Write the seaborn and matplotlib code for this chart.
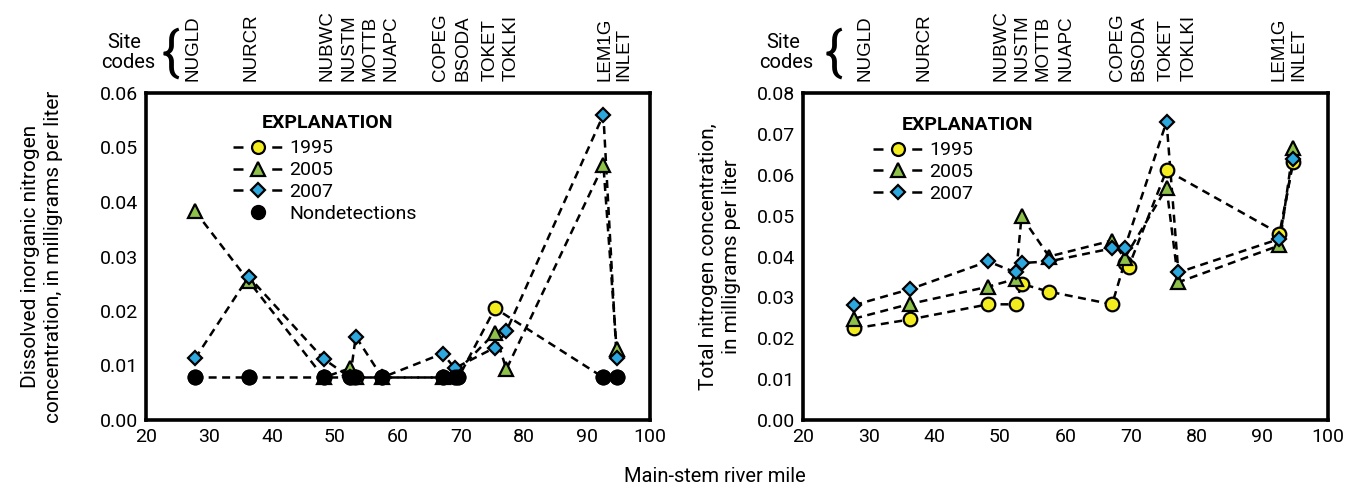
import matplotlib
matplotlib.use("Agg")
import matplotlib.pyplot as plt
import matplotlib.ticker as mticker
import matplotlib.transforms as mtransforms
from matplotlib.lines import Line2D
import seaborn as sns
import pandas as pd

# DATOS

site_codes = ["NUGLD", "NURCR", "NUBWC", "NUSTM", "MOTTB", "NUAPC",
              "COPEG", "BSODA", "TOKET", "TOKLKI", "LEM1G", "INLET"]

# nitrogeno inorganico disuelto
din_x_1995 = [27.8, 36.3, 48.2, 52.4, 53.3, 57.5, 67.1, 69.0, 69.6, 75.4, 92.6, 94.7]
din_y_1995 = [0.0078, 0.0078, 0.0078, 0.0078, 0.0078, 0.0078, 0.0078, 0.0078, 0.0078, 0.0205, 0.0078, 0.0078]

din_x_2005 = [27.8, 36.3, 48.2, 52.4, 53.3, 57.5, 67.1, 69.0, 75.4, 77.2, 92.6, 94.7]
din_y_2005 = [0.0383, 0.0255, 0.0078, 0.0095, 0.0078, 0.0078, 0.0078, 0.0085, 0.0160, 0.0093, 0.0468, 0.0130]

din_x_2007 = [27.8, 36.3, 48.2, 52.4, 53.3, 57.5, 67.1, 69.0, 75.4, 77.2, 92.6, 94.7]
din_y_2007 = [0.0113, 0.0263, 0.0112, 0.0078, 0.0153, 0.0078, 0.0122, 0.0095, 0.0133, 0.0163, 0.0560, 0.0113]

nd_x = [27.8, 36.3, 48.2, 52.4, 53.0, 57.5, 67.1, 69.0, 69.6, 92.6, 94.7]
nd_y = [0.0078, 0.0078, 0.0078, 0.0078, 0.0078, 0.0078, 0.0078, 0.0078, 0.0078, 0.0078, 0.0078]

# nitrogeno total
tn_x_1995 = [27.8, 36.3, 48.2, 52.4, 53.3, 57.5, 67.1, 69.0, 69.6, 75.4, 92.6, 94.7]
tn_y_1995 = [0.0224, 0.0246, 0.0283, 0.0283, 0.0333, 0.0314, 0.0283, 0.0385, 0.0374, 0.0611, 0.0456, 0.0631]

tn_x_2005 = [27.8, 36.3, 48.2, 52.4, 53.3, 57.5, 67.1, 69.0, 75.4, 77.2, 92.6, 94.7]
tn_y_2005 = [0.0248, 0.0284, 0.0326, 0.0345, 0.0498, 0.0400, 0.0439, 0.0396, 0.0568, 0.0337, 0.0427, 0.0666]

tn_x_2007 = [27.8, 36.3, 48.2, 52.4, 53.3, 57.5, 67.1, 69.0, 75.4, 77.2, 92.6, 94.7]
tn_y_2007 = [0.0281, 0.0320, 0.0388, 0.0361, 0.0384, 0.0388, 0.0420, 0.0420, 0.0730, 0.0361, 0.0443, 0.0639]

# ESTILO

sns.set_style("white")
COND = ["Roboto", "DejaVu Sans"]
PLAIN = ["Liberation Sans", "DejaVu Sans"]
plt.rcParams["font.family"] = COND
for k in ["text.color", "axes.labelcolor", "xtick.color", "ytick.color"]:
    plt.rcParams[k] = "black"

AMARILLO = "#F3EC1F"
VERDE = "#8DC149"
AZUL = "#2CA8DF"
DASH = (0, (3.2, 2.2))

estilos = {
    "1995": dict(marker="o", color=AMARILLO, size=9.8),
    "2005": dict(marker="^", color=VERDE, size=10.5),
    "2007": dict(marker="D", color=AZUL, size=7.5),
}

W, H = 1359, 491
fig = plt.figure(figsize=(W / 100, H / 100), dpi=100)

ax_din = fig.add_axes([146 / W, 1 - 420 / H, 504 / W, 327 / H])
ax_tn = fig.add_axes([803 / W, 1 - 420 / H, 525 / W, 327 / H])


def dibujar(ax, series, nd=None):
    # lineas primero, marcadores encima
    for anio, (xs, ys) in series.items():
        df = pd.DataFrame({"x": xs, "y": ys})
        sns.lineplot(data=df, x="x", y="y", ax=ax, color="black",
                     linestyle=DASH, linewidth=1.8, sort=False,
                     estimator=None, zorder=2)
    for anio, (xs, ys) in series.items():
        e = estilos[anio]
        ax.plot(xs, ys, linestyle="none", marker=e["marker"],
                markersize=e["size"], markerfacecolor=e["color"],
                markeredgecolor="black", markeredgewidth=1.6, zorder=3)
    if nd is not None:
        ax.plot(nd[0], nd[1], linestyle="none", marker="o",
                markersize=10.5, color="black", zorder=4)


dibujar(ax_din, {"1995": (din_x_1995, din_y_1995),
                 "2005": (din_x_2005, din_y_2005),
                 "2007": (din_x_2007, din_y_2007)}, nd=(nd_x, nd_y))

dibujar(ax_tn, {"1995": (tn_x_1995, tn_y_1995),
                "2005": (tn_x_2005, tn_y_2005),
                "2007": (tn_x_2007, tn_y_2007)})

# EJES
for ax, ymax in [(ax_din, 0.06), (ax_tn, 0.08)]:
    ax.set_xlim(20, 100)
    ax.set_ylim(0, ymax)
    ax.xaxis.set_major_locator(mticker.MultipleLocator(10))
    ax.xaxis.set_minor_locator(mticker.MultipleLocator(5))
    ax.yaxis.set_major_locator(mticker.MultipleLocator(0.01))
    ax.yaxis.set_minor_locator(mticker.MultipleLocator(0.005))
    ax.yaxis.set_major_formatter(mticker.FormatStrFormatter("%.2f"))
    ax.tick_params(which="both", direction="in", width=1.6,
                   labelsize=14, top=False, right=False)
    ax.tick_params(which="major", length=6, pad=6)
    ax.tick_params(which="minor", length=6)
    for s in ax.spines.values():
        s.set_linewidth(2.6)
        s.set_color("black")
    ax.set_xlabel("")
    ax.set_ylabel("")

ax_din.set_ylabel("Dissolved inorganic nitrogen\nconcentration, in milligrams per liter",
                  fontsize=15, linespacing=1.25)
ax_din.yaxis.set_label_coords(-0.165, 0.5)
ax_tn.set_ylabel("Total nitrogen concentration,\nin milligrams per liter",
                 fontsize=15, linespacing=1.25)
ax_tn.yaxis.set_label_coords(-0.118, 0.5)

fig.text(715 / W, 1 - 476 / H, "Main-stem river mile", ha="center",
         va="center", fontsize=14.5)


# LEYENDA
def leyenda(ax, x0, xt, yt, con_nd):
    handles = []
    labels = []
    for anio, e in estilos.items():
        handles.append(Line2D([], [], color="black", linestyle=(0, (4, 11.5)),
                              linewidth=1.8, marker=e["marker"],
                              markersize=e["size"] * 0.95,
                              markerfacecolor=e["color"],
                              markeredgecolor="black", markeredgewidth=1.6))
        labels.append(anio)
    if con_nd:
        handles.append(Line2D([], [], linestyle="none", marker="o",
                              markersize=10, color="black"))
        labels.append("Nondetections")
    ax.text(xt, yt, "EXPLANATION", transform=ax.transAxes, ha="center",
            va="center", fontsize=14, fontweight="bold")
    ax.legend(handles, labels, loc="upper left",
              bbox_to_anchor=(x0, yt - 0.05), frameon=False, fontsize=14,
              handlelength=2.6, handletextpad=0.3, labelspacing=0.2,
              borderpad=0, borderaxespad=0)


leyenda(ax_din, 0.173, 0.361, 0.908, True)
leyenda(ax_tn, 0.133, 0.314, 0.902, False)

# CODIGOS DE SITIO
code_x_din = [27.5, 36.7, 48.7, 52.2, 55.6, 58.9, 66.8, 70.3, 74.6, 77.9, 92.8, 95.9]
code_x_tn = [29.4, 38.5, 50.2, 53.4, 56.5, 60.0, 67.9, 71.2, 75.4, 78.8, 92.5, 95.5]
for ax, code_x in [(ax_din, code_x_din), (ax_tn, code_x_tn)]:
    tr = mtransforms.blended_transform_factory(ax.transData, fig.transFigure)
    for codigo, cx in zip(site_codes, code_x):
        ax.text(cx, 1 - 81 / H, codigo, transform=tr, rotation=90,
                ha="center", va="bottom", fontsize=13.5, family=PLAIN,
                clip_on=False)

for sx, cx, bx in [(124, 128, 170), (783, 786, 833)]:
    fig.text(sx / W, 1 - 42 / H, "Site", ha="center", va="center",
             fontsize=14.5)
    fig.text(cx / W, 1 - 63 / H, "codes", ha="center", va="center",
             fontsize=14.5)
    fig.text(bx / W, 1 - 55 / H, "{", ha="center", va="center",
             fontsize=38, family=["Roboto"], fontweight="normal")

fig.savefig("out.png", dpi=100)
